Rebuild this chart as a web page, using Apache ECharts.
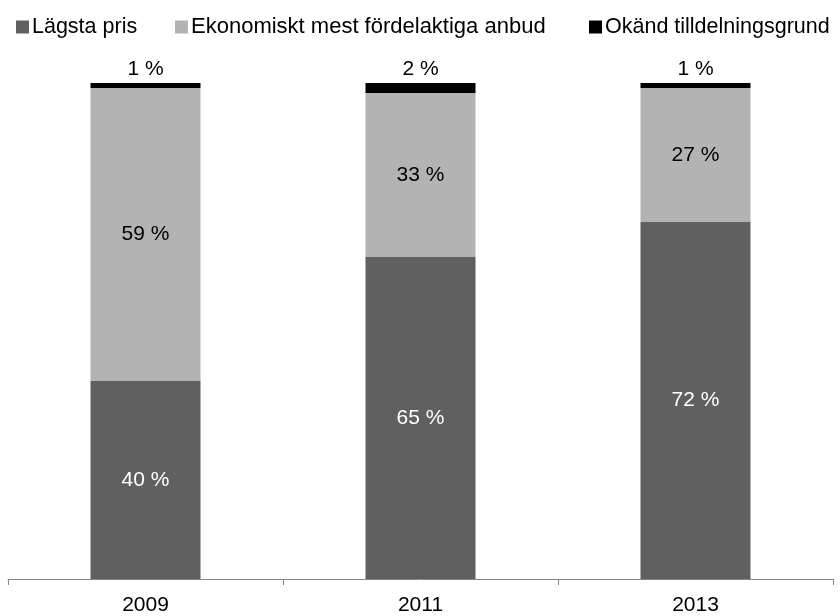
<!DOCTYPE html>
<html>
<head>
<meta charset="utf-8">
<script src="https://cdn.jsdelivr.net/npm/echarts@6/dist/echarts.min.js"></script>
<style>
  html, body { margin: 0; padding: 0; background: #fff; }
  #chart { width: 840px; height: 616px; }
</style>
</head>
<body>
<div id="chart"></div>
<script>
// Andel upphandlingar per tilldelningsgrund (procent)
const years = ['2009', '2011', '2013'];
const seriesNames = ['Lägsta pris', 'Ekonomiskt mest fördelaktiga anbud', 'Okänd tilldelningsgrund'];
const lowestPrice = [40, 65, 72];
const mostAdvantageous = [59, 33, 27];
const unknownBasis = [1, 2, 1];

const colors = ['#606060', '#b3b3b3', '#000000'];
const labelColors = ['#ffffff', '#000000', '#000000'];
const font = '"Liberation Sans", Arial, sans-serif';

const chart = echarts.init(document.getElementById('chart'), null, { renderer: 'canvas' });

function makeSeries(idx, values, position) {
  return {
    name: seriesNames[idx],
    type: 'bar',
    stack: 'total',
    barWidth: '40%',
    data: values,
    itemStyle: { color: colors[idx] },
    emphasis: { disabled: true },
    label: {
      show: true,
      position: position,
      distance: 3,
      formatter: p => p.value + ' %',
      color: labelColors[idx],
      fontFamily: font,
      fontSize: 21
    }
  };
}

// one legend per entry so each can sit at its own spot along the top
const legendLefts = [11, 170, 584];
const legends = seriesNames.map((name, i) => ({
  left: legendLefts[i],
  top: 11,
  icon: 'rect',
  itemWidth: 13,
  itemHeight: 13,
  textStyle: { fontFamily: font, fontSize: i === 1 ? 22 : 21.5, color: '#000', padding: [0, 0, 0, -2] },
  data: [name]
}));

chart.setOption({
  animation: false,
  backgroundColor: '#ffffff',
  color: colors,
  legend: legends,
  grid: { left: 8, right: 7, top: 83, bottom: 36, containLabel: false },
  xAxis: {
    type: 'category',
    data: years,
    axisLine: { lineStyle: { color: '#868686', width: 1 } },
    axisTick: { show: true, length: 6, lineStyle: { color: '#868686' } },
    axisLabel: { fontFamily: font, fontSize: 21, color: '#000', margin: 16 }
  },
  yAxis: {
    type: 'value',
    min: 0,
    max: 100,
    show: false,
    splitLine: { show: false }
  },
  series: [
    makeSeries(0, lowestPrice, 'inside'),
    makeSeries(1, mostAdvantageous, 'inside'),
    makeSeries(2, unknownBasis, 'top')
  ]
});
</script>
</body>
</html>
